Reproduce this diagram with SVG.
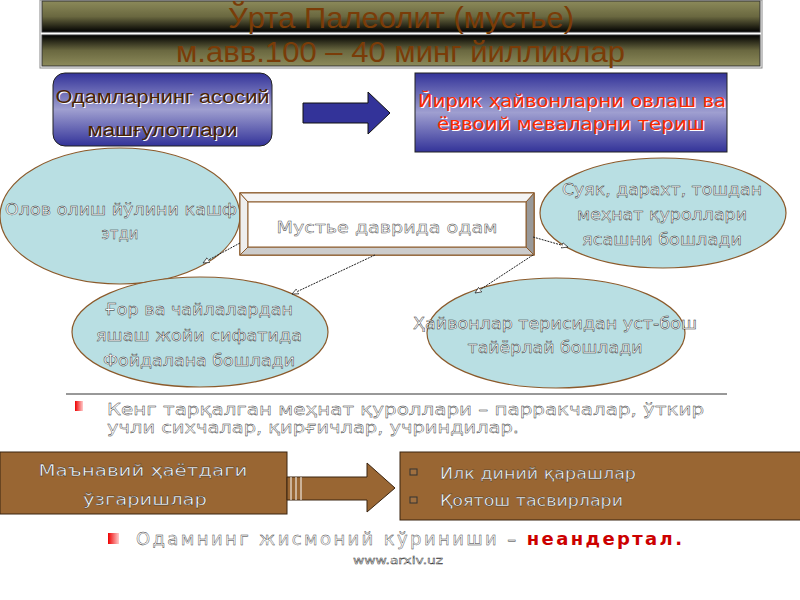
<svg xmlns="http://www.w3.org/2000/svg" width="800" height="600" viewBox="0 0 800 600">
<defs>
<linearGradient id="bandTop" x1="0" y1="0" x2="0" y2="1"><stop offset="0" stop-color="#8c8a5a"/><stop offset="0.5" stop-color="#6a6840"/><stop offset="1" stop-color="#000"/></linearGradient>
<linearGradient id="bandBot" x1="0" y1="0" x2="0" y2="1"><stop offset="0" stop-color="#000"/><stop offset="0.5" stop-color="#6a6840"/><stop offset="1" stop-color="#8c8a5a"/></linearGradient>
<linearGradient id="blue" x1="0" y1="0" x2="0" y2="1"><stop offset="0" stop-color="#333399"/><stop offset="0.5" stop-color="#9f9fd0"/><stop offset="1" stop-color="#333399"/></linearGradient>
<linearGradient id="redsq" x1="0" y1="0" x2="1" y2="0"><stop offset="0" stop-color="#ee0000"/><stop offset="1" stop-color="#ffcccc"/></linearGradient>
<marker id="tri" viewBox="0 0 10 10" refX="9" refY="5" markerWidth="7" markerHeight="7" orient="auto" markerUnits="userSpaceOnUse"><path d="M0,1 L9,5 L0,9 Z" fill="#fff" stroke="#222" stroke-width="1"/></marker>
<style>
.ttl{font-family:"Liberation Sans",Arial,sans-serif;font-size:29px;fill:#7a3c08;}
.ell{fill:#b9dfe3;stroke:#8b5a2b;stroke-width:1.2;}
.hol{font-family:"DejaVu Sans","Liberation Sans",sans-serif;font-size:15px;fill:#fff;stroke:#222;stroke-width:0.4;}
.conn{stroke:#222;stroke-width:1;stroke-dasharray:2 1;fill:none;marker-end:url(#tri);}
.wht{font-family:"DejaVu Sans","Liberation Sans",sans-serif;font-size:16px;fill:#fff;stroke:#222;stroke-width:0.35;}
.brd{fill:#996633;stroke:#3a2410;stroke-width:1;}
</style>
</defs>
<rect width="800" height="600" fill="#fff"/>

<g id="title">
<rect x="40" y="0" width="722" height="68" fill="#fff" stroke="#888" stroke-width="1"/>
<rect x="42" y="1" width="718" height="31" fill="url(#bandTop)" stroke="#333" stroke-width="1"/>
<rect x="42" y="35" width="718" height="31" fill="url(#bandBot)" stroke="#333" stroke-width="1"/>
<text class="ttl" x="228" y="28" textLength="346" lengthAdjust="spacingAndGlyphs">Ўрта Палеолит (мустье)</text>
<text class="ttl" x="176" y="62" textLength="449" lengthAdjust="spacingAndGlyphs">м.авв.100 – 40 минг йилликлар</text>
</g>

<g id="box-activities">
<rect x="53" y="73" width="219" height="73" rx="12" fill="url(#blue)" stroke="#222" stroke-width="1"/>
<g font-family="Liberation Sans,Arial,sans-serif" font-size="18" text-anchor="middle">
<text x="163.5" y="103.5" fill="#fff" textLength="214" lengthAdjust="spacingAndGlyphs">Одамларнинг асосий</text>
<text x="162.5" y="102.5" fill="#4a2200" textLength="214" lengthAdjust="spacingAndGlyphs">Одамларнинг асосий</text>
<text x="163.5" y="136.5" fill="#fff" textLength="150" lengthAdjust="spacingAndGlyphs">машғулотлари</text>
<text x="162.5" y="135.5" fill="#4a2200" textLength="150" lengthAdjust="spacingAndGlyphs">машғулотлари</text>
</g>
</g>

<g id="arrow-blue">
<path d="M303,103 L368,103 L368,92 L390,113 L368,134 L368,123 L303,123 Z" fill="#333399" stroke="#111" stroke-width="1"/>
</g>

<g id="box-hunting">
<rect x="415" y="73" width="312" height="79" fill="url(#blue)" stroke="#222" stroke-width="1"/>
<g font-family="DejaVu Sans,Liberation Sans,sans-serif" font-size="17" text-anchor="middle">
<text x="573" y="108" fill="#fff" textLength="308" lengthAdjust="spacingAndGlyphs">Йирик ҳайвонларни овлаш ва</text>
<text x="572" y="107" fill="#ff2a00" textLength="308" lengthAdjust="spacingAndGlyphs">Йирик ҳайвонларни овлаш ва</text>
<text x="572" y="131" fill="#fff" textLength="268" lengthAdjust="spacingAndGlyphs">ёввоий меваларни териш</text>
<text x="571" y="130" fill="#ff2a00" textLength="268" lengthAdjust="spacingAndGlyphs">ёввоий меваларни териш</text>
</g>
</g>

<g id="ell-fire">
<ellipse class="ell" cx="120" cy="216" rx="120" ry="68"/>
<text class="hol" x="121" y="215" text-anchor="middle" textLength="232" lengthAdjust="spacingAndGlyphs">Олов олиш йўлини кашф</text>
<text class="hol" x="120" y="239" text-anchor="middle">этди</text>
</g>

<g id="ell-tools">
<ellipse class="ell" cx="663" cy="213" rx="123" ry="55"/>
<text class="hol" x="662" y="195" text-anchor="middle" textLength="200" lengthAdjust="spacingAndGlyphs">Суяк, дарахт, тошдан</text>
<text class="hol" x="662" y="220" text-anchor="middle" textLength="170" lengthAdjust="spacingAndGlyphs">меҳнат қуроллари</text>
<text class="hol" x="662" y="245" text-anchor="middle" textLength="160" lengthAdjust="spacingAndGlyphs">ясашни бошлади</text>
</g>

<g id="ell-cave">
<ellipse class="ell" cx="200" cy="332" rx="128" ry="55"/>
<text class="hol" x="199" y="315" text-anchor="middle" textLength="188" lengthAdjust="spacingAndGlyphs">Ғор ва чайлалардан</text>
<text class="hol" x="199" y="341" text-anchor="middle" textLength="206" lengthAdjust="spacingAndGlyphs">яшаш жойи сифатида</text>
<text class="hol" x="199" y="366" text-anchor="middle" textLength="192" lengthAdjust="spacingAndGlyphs">Фойдалана бошлади</text>
</g>

<g id="ell-clothes">
<ellipse class="ell" cx="556" cy="333" rx="129" ry="55"/>
<text class="hol" x="555" y="329" text-anchor="middle" textLength="284" lengthAdjust="spacingAndGlyphs">Ҳайвонлар терисидан уст-бош</text>
<text class="hol" x="555" y="353" text-anchor="middle" textLength="175" lengthAdjust="spacingAndGlyphs">тайёрлай бошлади</text>
</g>

<g id="box-center">
<rect x="240" y="193" width="294" height="62" fill="#fff" stroke="#8b5a2b" stroke-width="1.5"/>
<path d="M240,193 L248,202 L248,247 L240,255 Z" fill="#eeeeee" stroke="#8b5a2b" stroke-width="1"/>
<path d="M534,193 L526,202 L526,247 L534,255 Z" fill="#999" stroke="#8b5a2b" stroke-width="1"/>
<path d="M240,255 L248,247 L526,247 L534,255 Z" fill="#cccccc" stroke="#8b5a2b" stroke-width="1"/>
<path d="M240,193 L248,202 L526,202 L534,193 Z" fill="#f4f4f4" stroke="#8b5a2b" stroke-width="1"/>
<rect x="248" y="202" width="278" height="45" fill="#fff" stroke="#8b5a2b" stroke-width="1"/>
<text class="hol" x="387" y="233" text-anchor="middle" font-size="17" textLength="221" lengthAdjust="spacingAndGlyphs" style="stroke:#444">Мустье даврида одам</text>
</g>

<g id="connectors">
<line class="conn" x1="240" y1="243" x2="203" y2="263"/>
<line class="conn" x1="375" y1="255" x2="292" y2="294"/>
<line class="conn" x1="533" y1="237" x2="568" y2="247"/>
<line class="conn" x1="533" y1="255" x2="475" y2="293"/>
</g>

<g id="tools-bullet">
<line x1="66" y1="394" x2="727" y2="394" stroke="#333" stroke-width="1"/>
<rect x="75" y="401" width="8" height="10" fill="url(#redsq)"/>
<text class="wht" x="107" y="415" textLength="597" lengthAdjust="spacingAndGlyphs">Кенг тарқалган меҳнат қуроллари – парракчалар, ўткир</text>
<text class="wht" x="107" y="433" textLength="412" lengthAdjust="spacingAndGlyphs">учли сихчалар, қирғичлар, учриндилар.</text>
</g>

<g id="box-spiritual">
<rect class="brd" x="0" y="452" width="287" height="62"/>
<text class="wht" x="143" y="476" text-anchor="middle" textLength="209" lengthAdjust="spacingAndGlyphs">Маънавий ҳаётдаги</text>
<text class="wht" x="145" y="505" text-anchor="middle" textLength="124" lengthAdjust="spacingAndGlyphs">ўзгаришлар</text>
</g>

<g id="arrow-brown">
<path d="M287,477 L367,477 L367,463 L395,488 L367,512 L367,500 L287,500 Z" class="brd"/>
<line x1="291" y1="477" x2="291" y2="500" stroke="#fff" stroke-width="1"/>
<line x1="296" y1="477" x2="296" y2="500" stroke="#fff" stroke-width="1"/>
<line x1="301" y1="477" x2="301" y2="500" stroke="#fff" stroke-width="1"/>
</g>

<g id="box-beliefs">
<rect class="brd" x="400" y="452" width="402" height="68"/>
<rect x="410" y="469" width="7" height="6" fill="#a07040" stroke="#333" stroke-width="1"/>
<rect x="410" y="497" width="7" height="6" fill="#a07040" stroke="#333" stroke-width="1"/>
<text class="wht" x="440" y="479" font-size="15" textLength="196" lengthAdjust="spacingAndGlyphs">Илк диний қарашлар</text>
<text class="wht" x="440" y="506" font-size="15" textLength="183" lengthAdjust="spacingAndGlyphs">Қоятош тасвирлари</text>
</g>

<g id="neanderthal">
<rect x="108" y="533" width="11" height="11" fill="url(#redsq)"/>
<text x="136" y="545" font-family="DejaVu Sans,Liberation Sans,sans-serif" font-size="18" textLength="546" lengthAdjust="spacing"><tspan fill="#fff" stroke="#333" stroke-width="0.4">Одамнинг жисмоний кўриниши – </tspan><tspan fill="#cc0000" font-weight="bold">неандертал.</tspan></text>
<text x="398" y="564" font-family="DejaVu Sans,Liberation Sans,sans-serif" font-size="10" fill="#fff" stroke="#333" stroke-width="0.4" text-anchor="middle" textLength="90" lengthAdjust="spacingAndGlyphs">www.arxiv.uz</text>
</g>
</svg>
